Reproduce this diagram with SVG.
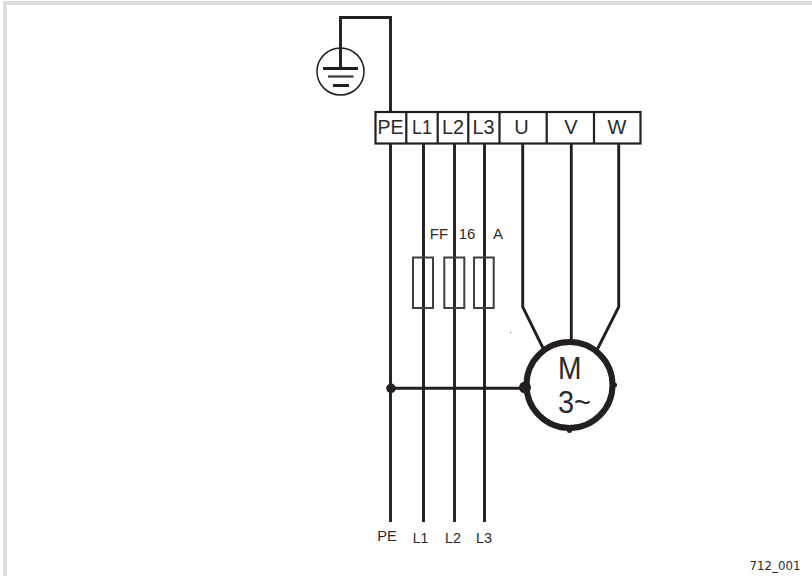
<svg xmlns="http://www.w3.org/2000/svg" width="812" height="576" viewBox="0 0 812 576">
<style>
text{font-family:"Liberation Sans",Arial,sans-serif;fill:#2a2a2a}
.w{fill:none;stroke:#231f20;stroke-width:2.9;stroke-linejoin:miter}
.t{fill:none;stroke:#231f20;stroke-width:2.2}
.f{fill:none;stroke:#3f3f3f;stroke-width:2}
.tl{font-size:20px;text-anchor:middle}
.sl{font-size:15px;text-anchor:middle}
.d{fill:#231f20}
</style>
<rect width="812" height="576" fill="#fff"/>
<path d="M3 576V1H812V5H7V576Z" fill="#dcdcdc"/>
<g id="connectors">
<path class="w" d="M340.5 68V17.5H390.5V112"/>
<path class="w" d="M390.5 143V522M423.5 143V522M454.5 143V522M484.5 143V522"/>
<path class="w" d="M522.7 143V307L543 348M571.3 143V342M618.7 143V307L597.5 349"/>
<path class="w" d="M391 388.3H524"/>
</g>
<g id="earth">
<circle cx="340.5" cy="71.5" r="23.5" fill="none" stroke="#231f20" stroke-width="1.5"/>
<path fill="none" stroke="#231f20" stroke-width="2.8" d="M323 68.5H358M333 85.5H349"/>
<path fill="none" stroke="#3a3a3a" stroke-width="2.2" d="M328 76.5H353.5"/>
</g>
<g id="terminals">
<rect class="t" x="375.5" y="112" width="265" height="31.5"/>
<path class="t" d="M406.3 112V143.5M437.7 112V143.5M468.3 112V143.5M499.5 112V143.5M546.7 112V143.5M594 112V143.5"/>
<text class="tl" x="390.5" y="134.3" textLength="26" lengthAdjust="spacingAndGlyphs">PE</text>
<text class="tl" x="422" y="134.3" textLength="20" lengthAdjust="spacingAndGlyphs">L1</text>
<text class="tl" x="453" y="134.3" textLength="22" lengthAdjust="spacingAndGlyphs">L2</text>
<text class="tl" x="483.5" y="134.3" textLength="22" lengthAdjust="spacingAndGlyphs">L3</text>
<text class="tl" x="521.5" y="134.3">U</text>
<text class="tl" x="571" y="134.3">V</text>
<text class="tl" x="617" y="134.3">W</text>
</g>
<g id="fuses">
<rect class="f" x="413" y="257.5" width="20" height="50.5"/>
<rect class="f" x="444.3" y="257.5" width="20" height="50.5"/>
<rect class="f" x="474" y="257.5" width="19.7" height="50.5"/>
<text class="sl" x="439" y="239">FF</text>
<text class="sl" x="467" y="239">16</text>
<text class="sl" x="498" y="239">A</text>
</g>
<g id="motor">
<circle cx="569.5" cy="385" r="43" fill="#fff" stroke="#231f20" stroke-width="6"/>
<circle class="d" cx="525" cy="387.5" r="6"/>
<circle class="d" cx="569.5" cy="430.5" r="2.5"/>
<circle class="d" cx="614.5" cy="385" r="2.5"/>
<text x="558" y="379" font-size="31" textLength="23.5" lengthAdjust="spacingAndGlyphs">M</text>
<text x="558" y="413" font-size="31" textLength="33" lengthAdjust="spacingAndGlyphs">3~</text>
</g>
<circle id="junction" class="d" cx="391" cy="388.3" r="4.8"/>
<rect x="510" y="332" width="1.2" height="1" fill="#777"/>
<g id="labels">
<text class="sl" x="387" y="540.7" textLength="19.5" lengthAdjust="spacingAndGlyphs">PE</text>
<text class="sl" x="420.5" y="542.5" textLength="15.5" lengthAdjust="spacingAndGlyphs">L1</text>
<text class="sl" x="453" y="542.5" textLength="16" lengthAdjust="spacingAndGlyphs">L2</text>
<text class="sl" x="484" y="542.5" textLength="16" lengthAdjust="spacingAndGlyphs">L3</text>
<text x="749.5" y="570" font-size="11.5" style="font-family:'DejaVu Sans',sans-serif" textLength="51" lengthAdjust="spacingAndGlyphs">712_001</text>
</g>
</svg>
